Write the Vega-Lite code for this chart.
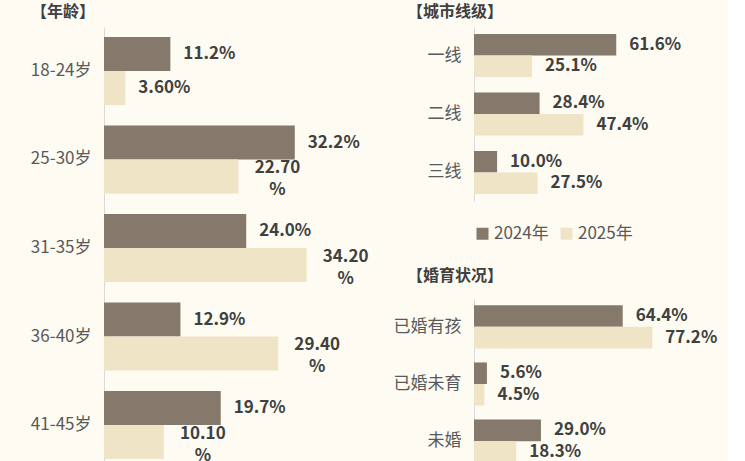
{
  "$schema": "https://vega.github.io/schema/vega-lite/v6.json",
  "background": "#fdfbf2",
  "padding": {"left": 0, "top": 4, "right": 0, "bottom": 0},
  "config": {
    "font": "Noto Sans CJK SC",
    "view": {"stroke": null},
    "title": {"fontSize": 16, "fontWeight": "bold", "color": "#404040", "anchor": "start", "frame": "bounds", "offset": 7},
    "axis": {"domainColor": "#d9d9d9", "ticks": false, "grid": false, "labelColor": "#595959", "labelFontSize": 17, "labelPadding": 13, "title": null}
  },
  "datasets": {
    "age": [
      {"cat": "18-24岁", "year": "2024年", "v": 11.2, "lab": "11.2%"},
      {"cat": "18-24岁", "year": "2025年", "v": 3.6, "lab": "3.60%"},
      {"cat": "25-30岁", "year": "2024年", "v": 32.2, "lab": "32.2%"},
      {"cat": "25-30岁", "year": "2025年", "v": 22.7, "lab": "22.70\n%"},
      {"cat": "31-35岁", "year": "2024年", "v": 24.0, "lab": "24.0%"},
      {"cat": "31-35岁", "year": "2025年", "v": 34.2, "lab": "34.20\n%"},
      {"cat": "36-40岁", "year": "2024年", "v": 12.9, "lab": "12.9%"},
      {"cat": "36-40岁", "year": "2025年", "v": 29.4, "lab": "29.40\n%"},
      {"cat": "41-45岁", "year": "2024年", "v": 19.7, "lab": "19.7%"},
      {"cat": "41-45岁", "year": "2025年", "v": 10.1, "lab": "10.10\n%"}
    ],
    "city": [
      {"cat": "一线", "year": "2024年", "v": 61.6, "lab": "61.6%"},
      {"cat": "一线", "year": "2025年", "v": 25.1, "lab": "25.1%"},
      {"cat": "二线", "year": "2024年", "v": 28.4, "lab": "28.4%"},
      {"cat": "二线", "year": "2025年", "v": 47.4, "lab": "47.4%"},
      {"cat": "三线", "year": "2024年", "v": 10.0, "lab": "10.0%"},
      {"cat": "三线", "year": "2025年", "v": 27.5, "lab": "27.5%"}
    ],
    "marital": [
      {"cat": "已婚有孩", "year": "2024年", "v": 64.4, "lab": "64.4%"},
      {"cat": "已婚有孩", "year": "2025年", "v": 77.2, "lab": "77.2%"},
      {"cat": "已婚未育", "year": "2024年", "v": 5.6, "lab": "5.6%"},
      {"cat": "已婚未育", "year": "2025年", "v": 4.5, "lab": "4.5%"},
      {"cat": "未婚", "year": "2024年", "v": 29.0, "lab": "29.0%"},
      {"cat": "未婚", "year": "2025年", "v": 18.3, "lab": "18.3%"}
    ]
  },
  "resolve": {"scale": {"x": "independent", "y": "independent", "yOffset": "independent", "color": "independent"}, "legend": {"color": "independent"}},
  "spacing": 21,
  "hconcat": [
    {
      "title": {"text": "【年龄】", "dx": 31},
      "data": {"name": "age"},
      "width": 237,
      "height": 442,
      "encoding": {
        "y": {"field": "cat", "type": "nominal", "sort": null, "scale": {"paddingInner": 0.232, "paddingOuter": 0.113}, "axis": {"minExtent": 104, "maxExtent": 104}},
        "yOffset": {"field": "year", "type": "nominal", "sort": null, "scale": {"paddingInner": 0, "paddingOuter": 0}},
        "x": {"field": "v", "type": "quantitative", "scale": {"domain": [0, 40]}, "axis": null}
      },
      "layer": [
        {"mark": {"type": "bar"}, "encoding": {"color": {"field": "year", "type": "nominal", "scale": {"domain": ["2024年", "2025年"], "range": ["#85796b", "#f0e4c7"]}, "legend": null}}},
        {"transform": [{"filter": "indexof(datum.lab, '\\n') < 0"}], "mark": {"type": "text", "align": "center", "dx": 39, "fontSize": 17, "fontWeight": "bold", "color": "#404040"}, "encoding": {"text": {"field": "lab"}}},
        {"transform": [{"filter": "indexof(datum.lab, '\\n') >= 0"}], "mark": {"type": "text", "align": "center", "dx": 39, "dy": -8, "fontSize": 17, "fontWeight": "bold", "color": "#404040", "lineBreak": "\n", "lineHeight": 22}, "encoding": {"text": {"field": "lab"}}}
      ]
    },
    {
      "resolve": {"scale": {"x": "independent", "y": "independent", "yOffset": "independent", "color": "independent"}, "legend": {"color": "independent"}},
      "spacing": 26,
      "vconcat": [
        {
          "title": {"text": "【城市线级】", "dx": 17},
          "data": {"name": "city"},
          "width": 254,
          "height": 174,
          "encoding": {
            "y": {"field": "cat", "type": "nominal", "sort": null, "scale": {"paddingInner": 0.265, "paddingOuter": 0.12}, "axis": {"minExtent": 84, "maxExtent": 84}},
            "yOffset": {"field": "year", "type": "nominal", "sort": null, "scale": {"paddingInner": 0, "paddingOuter": 0}},
            "x": {"field": "v", "type": "quantitative", "scale": {"domain": [0, 110]}, "axis": null}
          },
          "layer": [
            {"mark": {"type": "bar"}, "encoding": {"color": {"field": "year", "type": "nominal", "scale": {"domain": ["2024年", "2025年"], "range": ["#85796b", "#f0e4c7"]}, "legend": {"orient": "bottom", "direction": "horizontal", "title": null, "symbolType": "square", "symbolSize": 144, "symbolStrokeWidth": 0, "labelFontSize": 17, "labelColor": "#595959", "labelOffset": 3, "columnPadding": 9, "offset": 24}}}},
            {"mark": {"type": "text", "align": "left", "dx": 13, "fontSize": 17, "fontWeight": "bold", "color": "#404040"}, "encoding": {"text": {"field": "lab"}}}
          ]
        },
        {
          "title": {"text": "【婚育状况】", "dx": 17, "offset": 15},
          "data": {"name": "marital"},
          "width": 254,
          "height": 170,
          "encoding": {
            "y": {"field": "cat", "type": "nominal", "sort": null, "scale": {"paddingInner": 0.245, "paddingOuter": 0.11}, "axis": {"minExtent": 84, "maxExtent": 84}},
            "yOffset": {"field": "year", "type": "nominal", "sort": null, "scale": {"paddingInner": 0, "paddingOuter": 0}},
            "x": {"field": "v", "type": "quantitative", "scale": {"domain": [0, 110]}, "axis": null}
          },
          "layer": [
            {"mark": {"type": "bar"}, "encoding": {"color": {"field": "year", "type": "nominal", "scale": {"domain": ["2024年", "2025年"], "range": ["#85796b", "#f0e4c7"]}, "legend": null}}},
            {"mark": {"type": "text", "align": "left", "dx": 13, "fontSize": 17, "fontWeight": "bold", "color": "#404040"}, "encoding": {"text": {"field": "lab"}}}
          ]
        }
      ]
    }
  ]
}
